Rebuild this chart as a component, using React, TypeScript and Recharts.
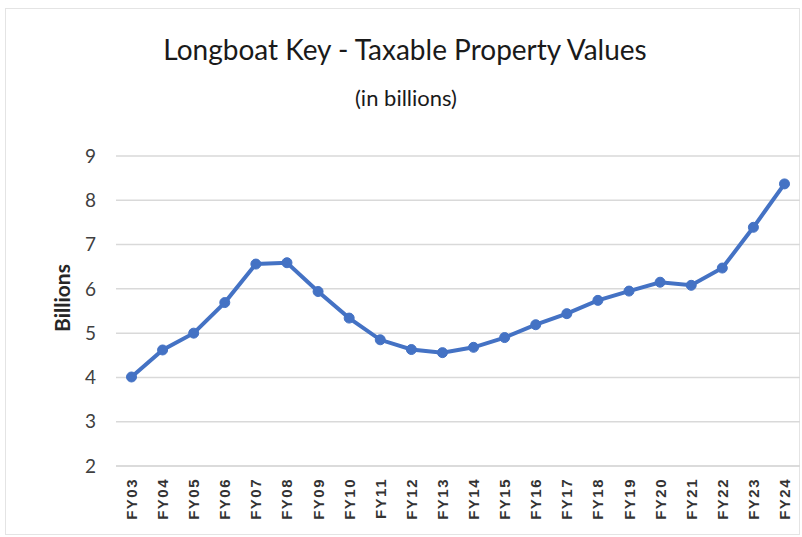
import React from "react";
import { LineChart, Line, XAxis, YAxis, CartesianGrid } from "recharts";

const FISCAL_YEARS = [
  "FY03", "FY04", "FY05", "FY06", "FY07", "FY08", "FY09", "FY10", "FY11", "FY12", "FY13",
  "FY14", "FY15", "FY16", "FY17", "FY18", "FY19", "FY20", "FY21", "FY22", "FY23", "FY24",
];

const TAXABLE_VALUES = [
  4.01, 4.62, 5.0, 5.69, 6.56, 6.59, 5.94, 5.34, 4.85, 4.63, 4.56,
  4.68, 4.9, 5.19, 5.44, 5.74, 5.95, 6.15, 6.08, 6.47, 7.39, 8.37,
];

const Y_TICKS = [2, 3, 4, 5, 6, 7, 8, 9];

const data = FISCAL_YEARS.map((fy, i) => ({ fy, value: TAXABLE_VALUES[i] }));

const LINE_BLUE = "#4472c4";

const XTick = (props: any) => {
  const { x, y, payload } = props;
  return (
    <text
      x={x}
      y={y}
      transform={`rotate(-90, ${x}, ${y})`}
      textAnchor="end"
      dominantBaseline="central"
      fontFamily="'Liberation Sans', Arial, sans-serif"
      fontSize={15}
      fontWeight="bold"
      letterSpacing={1.5}
      fill="#333"
    >
      {payload.value}
    </text>
  );
};

export default function App() {
  return (
    <div
      style={{
        position: "absolute",
        left: 0,
        top: 0,
        width: 802,
        height: 537,
        background: "#fff",
      }}
    >
      <div
        style={{
          position: "absolute",
          left: 5,
          top: 8,
          width: 795,
          height: 527,
          border: "1px solid #e4e4e4",
          boxSizing: "border-box",
        }}
      />
      <div
        style={{
          position: "absolute",
          left: 0,
          width: 810,
          top: 32,
          textAlign: "center",
          fontFamily: "Lato, sans-serif",
          fontSize: 28,
          color: "#1a1a1a",
        }}
      >
        Longboat Key - Taxable Property Values
      </div>
      <div
        style={{
          position: "absolute",
          left: 0,
          width: 812,
          top: 84,
          textAlign: "center",
          fontFamily: "Lato, sans-serif",
          fontSize: 22,
          color: "#1a1a1a",
        }}
      >
        (in billions)
      </div>
      <div
        style={{
          position: "absolute",
          left: 61,
          top: 298,
          transform: "translate(-50%, -50%) rotate(-90deg)",
          fontFamily: "Lato, sans-serif",
          fontSize: 21,
          fontWeight: "bold",
          color: "#262626",
          whiteSpace: "nowrap",
        }}
      >
        Billions
      </div>
      <LineChart
        width={802}
        height={537}
        data={data}
        margin={{ top: 156, right: 2, bottom: 0, left: 0 }}
        style={{ position: "absolute", left: 0, top: 0 }}
      >
        <CartesianGrid vertical={false} stroke="#d9d9d9" strokeWidth={1.5} />
        <XAxis
          dataKey="fy"
          interval={0}
          padding={{ left: 15.5, right: 15.5 }}
          axisLine={{ stroke: "#d9d9d9", strokeWidth: 1.5 }}
          tickLine={false}
          tick={<XTick />}
          tickMargin={6}
          height={71}
        />
        <YAxis
          domain={[2, 9]}
          ticks={Y_TICKS}
          interval={0}
          axisLine={false}
          tickLine={false}
          width={116}
          tickMargin={14}
          tick={{
            fontFamily: "Lato, sans-serif",
            fontSize: 19,
            fill: "#404040",
          }}
        />
        <Line
          type="linear"
          dataKey="value"
          stroke={LINE_BLUE}
          strokeWidth={4}
          dot={{ r: 5, fill: LINE_BLUE, stroke: LINE_BLUE, strokeWidth: 1 }}
          isAnimationActive={false}
        />
      </LineChart>
    </div>
  );
}
